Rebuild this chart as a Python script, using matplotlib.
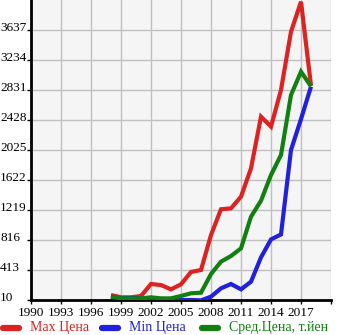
import numpy as np
import matplotlib
matplotlib.use("Agg")
import matplotlib.pyplot as plt
import matplotlib.transforms as mtransforms
from matplotlib.lines import Line2D

years = np.arange(1998, 2019)
max_price = [77, 46, 46, 64, 225, 211, 153, 221, 386, 413, 883, 1229, 1241,
             1398, 1778, 2473, 2339, 2831, 3614, 4017, 2890]
min_price = [55, 32, 37, 30, 19, 5, 5, 10, 10, 5, 55, 167, 225,
             153, 256, 583, 824, 891, 2025, 2440, 2876]
avg_price = [55, 32, 32, 32, 46, 32, 32, 64, 100, 108, 359, 525, 601,
             704, 1129, 1344, 1689, 1958, 2764, 3077, 2880]

x_ticks = list(range(1990, 2020, 3))
y_ticks = [10, 413, 816, 1219, 1622, 2025, 2428, 2831, 3234, 3637]
labels = ["Max Цена", "Min Цена", "Сред.Цена, т.йен"]
colors = ["#dd2222", "#2020dd", "#118011"]

plt.rcParams["font.family"] = ["Liberation Serif", "DejaVu Serif"]

W, H = 345, 335
fig = plt.figure(figsize=(W / 100, H / 100), dpi=100)
ax = fig.add_axes([31 / W, 35 / H, 300 / W, 300 / H])
ax.set_facecolor("#f5f5f5")

for vals, col, z in zip([max_price, min_price, avg_price], colors, [3, 4, 5]):
    ax.plot(years, vals, color=col, lw=3.0, solid_joinstyle="miter",
            solid_capstyle="butt", zorder=z)

ax.set_xlim(1990, 2020)
ax.set_ylim(10, 4040)
# vertical grid includes the right border at 2020
ax.set_xticks(x_ticks + [2020])
ax.set_xticklabels([str(t) for t in x_ticks] + [""], fontsize=9.5)
ax.set_yticks(y_ticks)
ax.set_yticklabels([str(t) for t in y_ticks], fontsize=9.5, ha="left")
ax.tick_params(axis="y", length=3, width=1, pad=19.2, direction="out")
ax.tick_params(axis="x", length=3, width=1, pad=2, direction="out")
ax.grid(True, color="#c0c0c0", lw=1)
ax.set_axisbelow(True)

# y labels sit a little above their grid lines
lift = mtransforms.ScaledTranslation(0, 3.5 / 100, fig.dpi_scale_trans)
for lbl in ax.get_yticklabels():
    lbl.set_transform(lbl.get_transform() + lift)

for side in ["top", "right"]:
    ax.spines[side].set_visible(False)
for side in ["left", "bottom"]:
    ax.spines[side].set_linewidth(2)
    ax.spines[side].set_color("black")

# legend row under the x labels
leg_y = 1 - 328 / H
for x0, lab, col in zip([0, 99, 199], labels, colors):
    fig.add_artist(Line2D([(x0 + 3) / W, (x0 + 19) / W], [leg_y, leg_y],
                          color=col, lw=4.5, solid_capstyle="round"))
    fig.text((x0 + 30) / W, leg_y, lab, color=col, fontsize=10,
             ha="left", va="center")

fig.savefig("out.png", dpi=100)
